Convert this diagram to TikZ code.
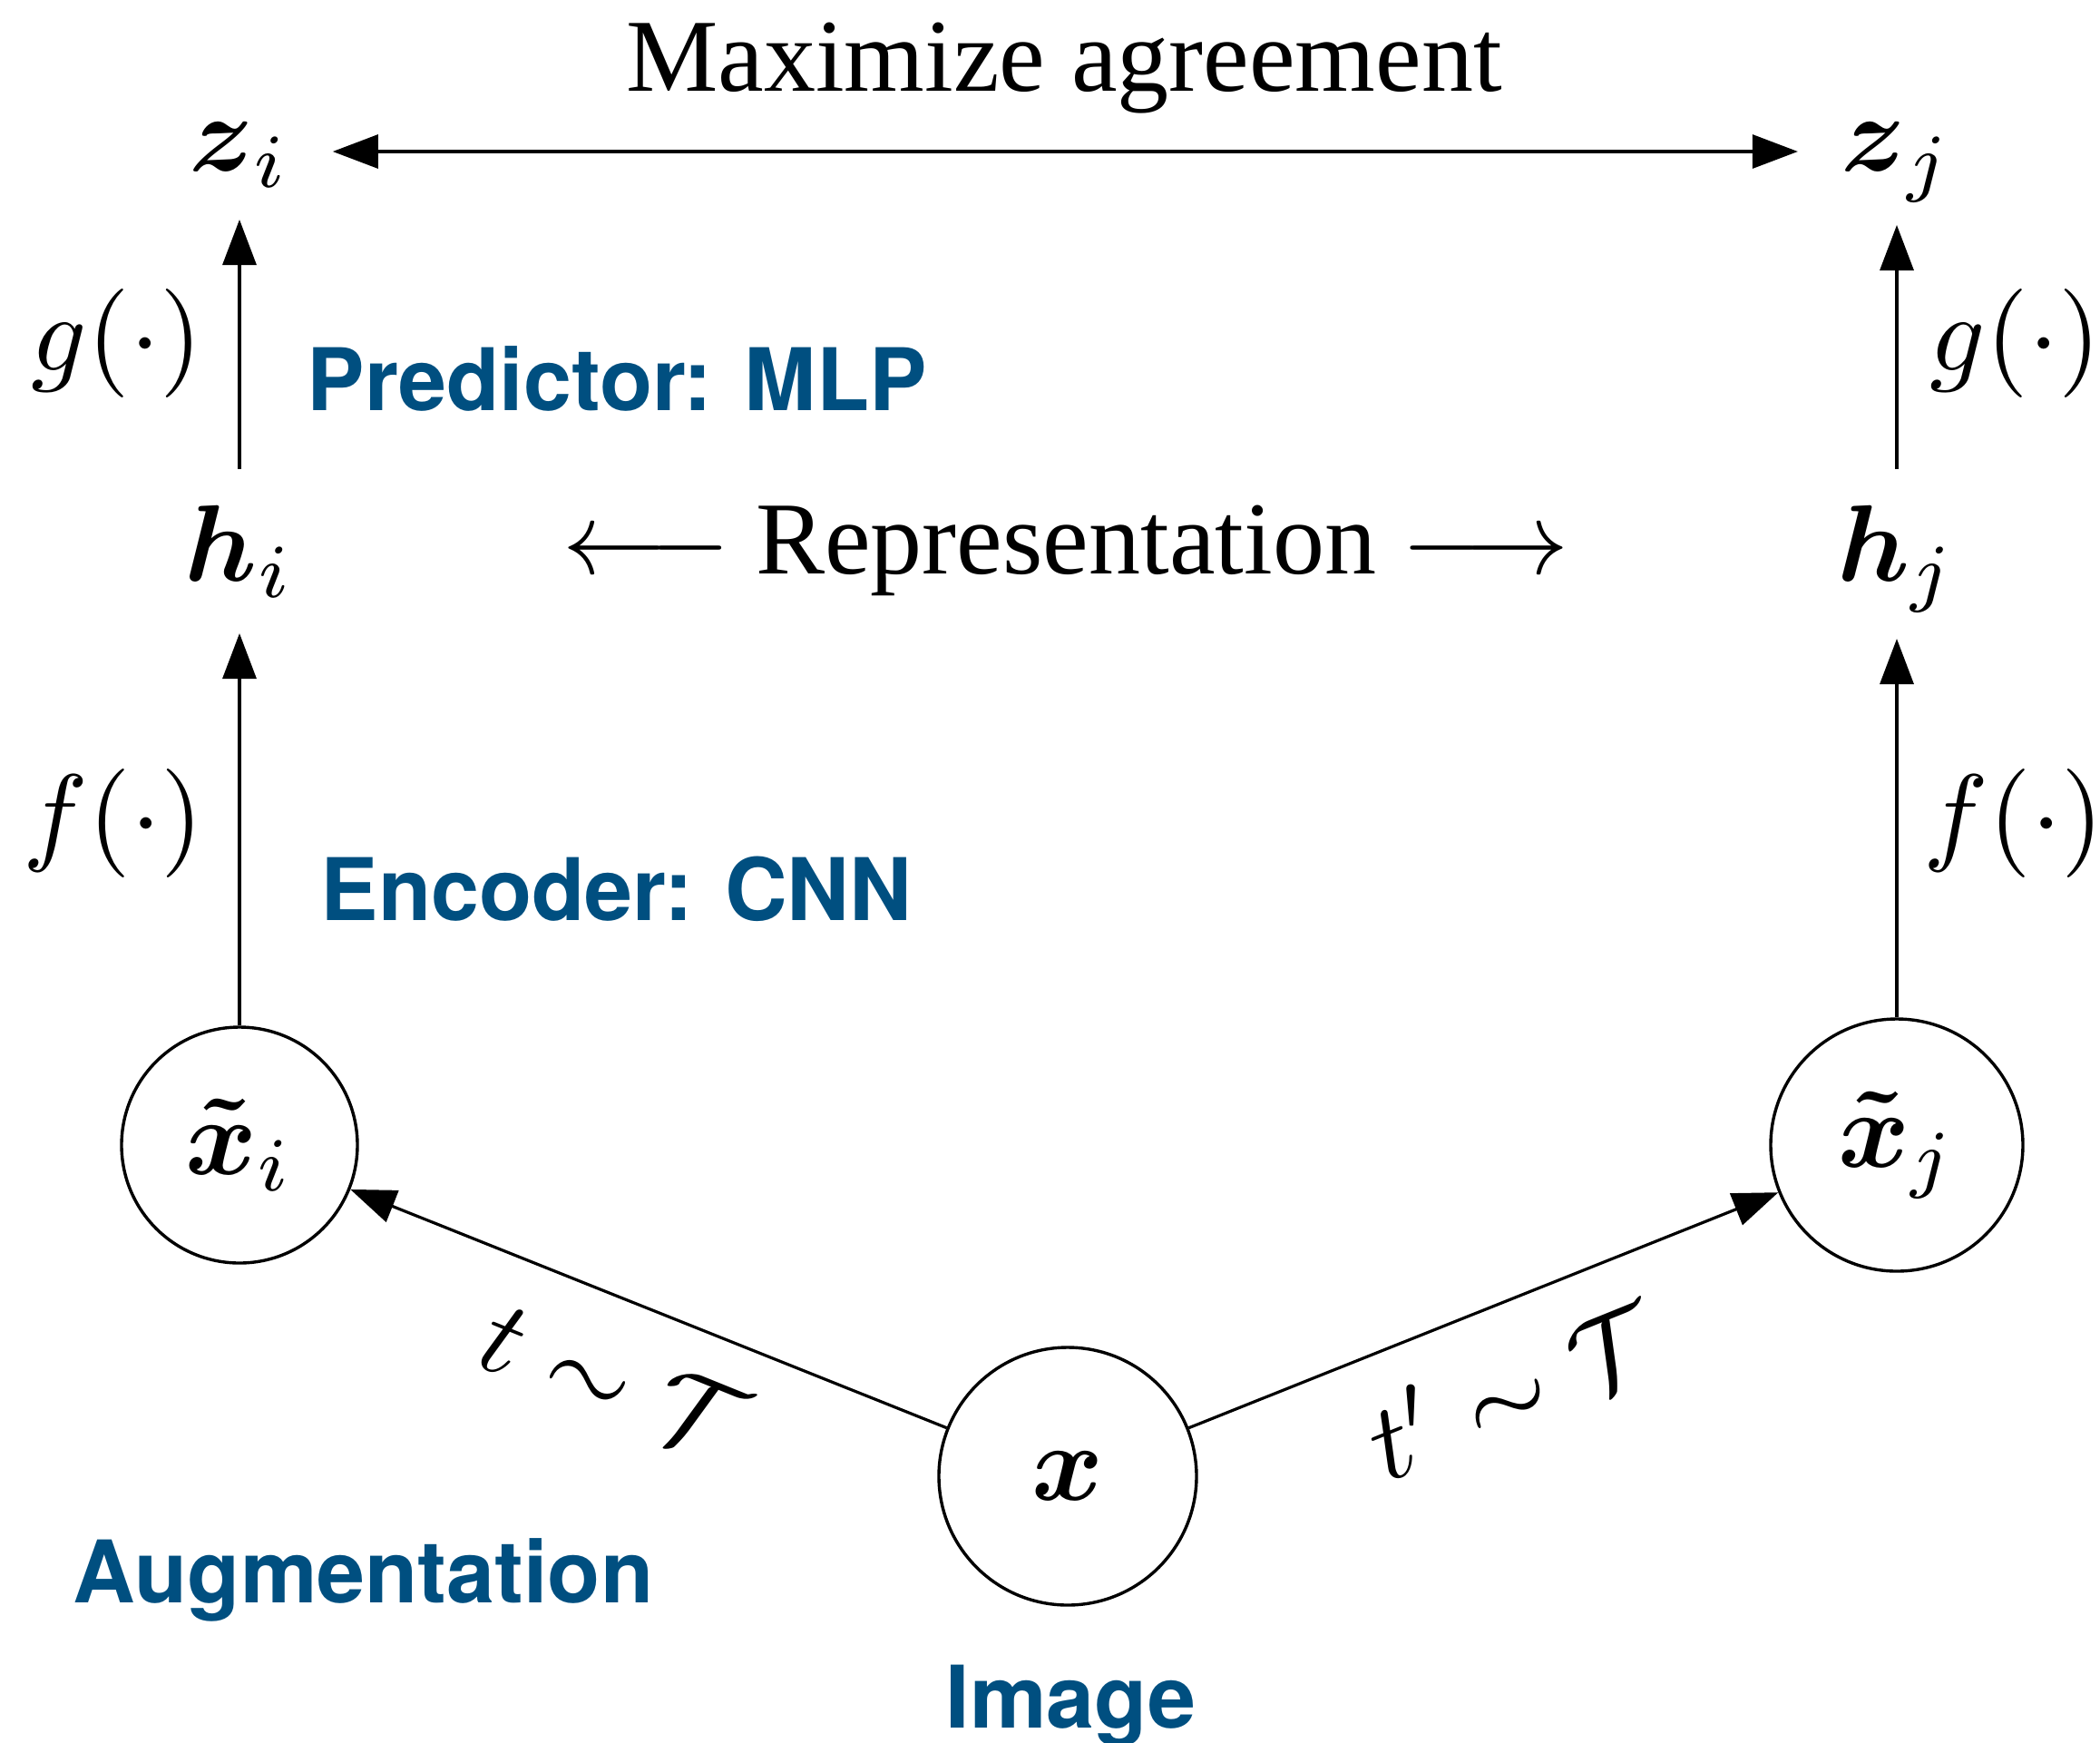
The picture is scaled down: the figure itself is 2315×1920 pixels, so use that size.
\documentclass[tikz,border=0pt]{standalone}
\usepackage{amsmath}
\usepackage{graphicx}
\usepackage[no-math]{fontspec}
\newfontfamily\serifTimes{Liberation Serif}
\newfontfamily\sansHelv{TeX Gyre Heros}
\usetikzlibrary{arrows.meta}
\definecolor{simblue}{RGB}{0,79,128}

% math set at 10pt and enlarged three times
\newcommand{\mthree}[1]{\scalebox{3}{\normalsize$#1$}}
% long text arrows beside the serif caption
\newcommand{\txtarrow}[1]{\scalebox{2.85}{\normalsize$#1$}}

\tikzset{
  mathlbl/.style={inner sep=0pt, outer sep=0pt, anchor=base,
    text height=16pt, text depth=5.5pt},
  fnlbl/.style={inner sep=0pt, anchor=base},
  circnode/.style={circle, draw, line width=0.85pt, inner sep=0pt},
  bluelbl/.style={inner sep=0pt, anchor=base west, text=simblue,
    font=\sansHelv\bfseries\fontsize{23.8}{29}\selectfont},
  serlbl/.style={inner sep=0pt, anchor=base,
    font=\serifTimes\fontsize{28.5}{34}\selectfont},
  arr/.style={line width=0.8pt, -{Triangle[length=12.5pt, width=9.25pt]}},
  dblarr/.style={line width=0.8pt,
    {Triangle[length=12.5pt, width=9.25pt]}-{Triangle[length=12.5pt, width=9.25pt]}}
}

\begin{document}
\begin{tikzpicture}[x=0.25pt, y=-0.25pt]
  \useasboundingbox (0,0) rectangle (2315,1920);

  % projections and representations
  \node[mathlbl] (zi) at (264,188) {\mthree{\boldsymbol{z}_i}};
  \node[mathlbl] (zj) at (2091,188) {\mthree{\boldsymbol{z}_j}};
  \node[mathlbl] (hi) at (264,640) {\mthree{\boldsymbol{h}_i}};
  \node[mathlbl] (hj) at (2091,640) {\mthree{\boldsymbol{h}_j}};

  % augmented views and the input image
  \node[circnode, minimum size=65pt] (xi) at (264,1262) {\mthree{\boldsymbol{\tilde{x}}_i}};
  \node[circnode, minimum size=69.5pt] (xj) at (2091,1262) {\mthree{\boldsymbol{\tilde{x}}_j}};
  \node[circnode, minimum size=71pt] (x) at (1177,1627) {\mthree{\boldsymbol{x}}};

  % function labels
  \node[fnlbl] (gl) at (129,408) {\mthree{g(\cdot)}};
  \node[fnlbl] (gr) at (2222,408) {\mthree{g(\cdot)}};
  \node[fnlbl] (fl) at (125,937) {\mthree{f(\cdot)}};
  \node[fnlbl] (fr) at (2220,937) {\mthree{f(\cdot)}};

  % captions
  \node[serlbl] (agree) at (1173,100) {Maximize agreement};
  \node[serlbl] (repr) at (1175,632)
    {\txtarrow{\longleftarrow} Representation \txtarrow{\longrightarrow}};
  \node[bluelbl] (pred) at (338,452) {Predictor: MLP};
  \node[bluelbl] (enc) at (353,1014) {Encoder: CNN};
  \node[bluelbl] (aug) at (80,1766) {Augmentation};
  \node[bluelbl] (img) at (1042,1904) {Image};

  % connectors
  \draw[dblarr, shorten <=11.75pt, shorten >=12pt] (zi.east) -- (zi.east -| zj.west);
  \draw[arr, shorten <=14.75pt, shorten >=8pt] (hi) -- (zi);
  \draw[arr, shorten <=14.75pt, shorten >=9.5pt] (hj) -- (zj);
  \draw[arr, shorten >=9pt] (xi) -- (hi);
  \draw[arr, shorten >=10.5pt] (xj) -- (hj);
  \draw[arr] (x) -- (xi);
  \draw[arr] (x) -- (xj);

  % transformation labels along the diagonal arrows
  \node[rotate=-22] (tl) at (676,1521) {\mthree{t \sim \mathcal{T}}};
  \node[rotate=22] (tr) at (1666,1530) {\mthree{t' \sim \mathcal{T}}};
\end{tikzpicture}
\end{document}
